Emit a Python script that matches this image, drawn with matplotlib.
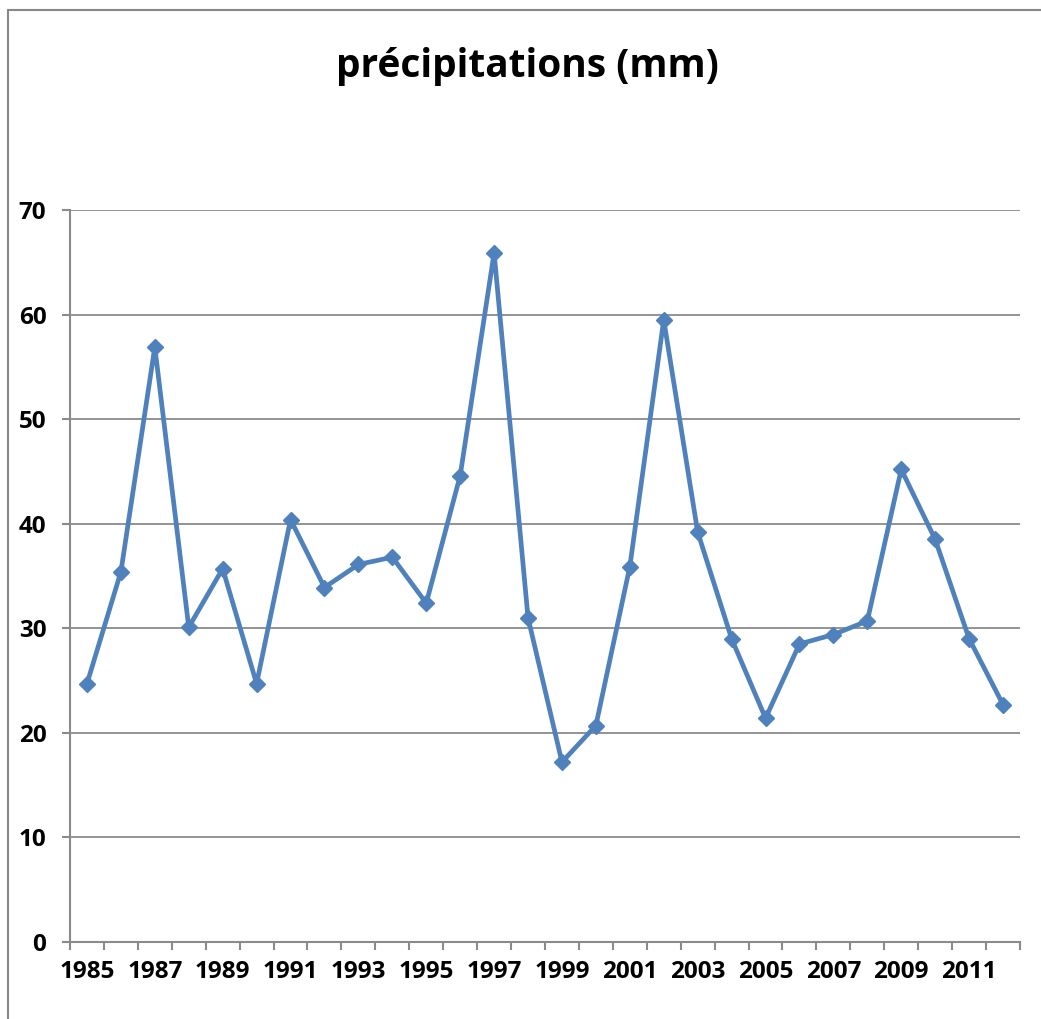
import numpy as np
import matplotlib.pyplot as plt
from matplotlib.patches import Rectangle

# annual precipitation series
years = list(range(1985, 2013))
precip = [24.7, 35.4, 56.9, 30.1, 35.7, 24.7, 40.4, 33.9, 36.1, 36.8,
          32.4, 44.6, 65.9, 31.0, 17.2, 20.7, 35.9, 59.5, 39.2, 29.0,
          21.4, 28.5, 29.4, 30.7, 45.2, 38.5, 29.0, 22.7]
y_ticks = [0, 10, 20, 30, 40, 50, 60, 70]

W, H = 1041, 1019
fig = plt.figure(figsize=(W / 100, H / 100), dpi=100)
plt.rcParams['font.family'] = ['Open Sans', 'DejaVu Sans']

# outer chart frame (right and bottom edges run past the canvas)
fig.patches.append(Rectangle((8 / W, -0.05), 1.2, (H - 10) / H + 0.05,
                             transform=fig.transFigure, fill=False,
                             edgecolor='#888888', linewidth=1.5))

ax = fig.add_axes([70 / W, (H - 942) / H, (1020 - 70) / W, (942 - 210) / H])
x = np.arange(len(years))
ax.plot(x, precip, color='#4F81BD', linewidth=3.4, marker='D', markersize=8.5,
        markerfacecolor='#4F81BD', markeredgecolor='#4F81BD', zorder=3)

ax.set_xlim(-0.5, len(years) - 0.5)
ax.set_ylim(0, 70)

grid_c = '#8a8a8a'
ax.set_yticks(y_ticks)
ax.yaxis.grid(True, color=grid_c, linewidth=1.3)
ax.set_axisbelow(True)
for s in ['top', 'right']:
    ax.spines[s].set_visible(False)
for s in ['left', 'bottom']:
    ax.spines[s].set_color(grid_c)
    ax.spines[s].set_linewidth(1.5)

# category boundaries carry the ticks, every other year is labelled
ax.set_xticks(np.arange(-0.5, len(years)), minor=True)
ax.set_xticks(x[::2])
ax.set_xticklabels([str(y) for y in years[::2]])
ax.tick_params(axis='x', which='major', length=0, pad=13)
ax.tick_params(axis='x', which='minor', length=6, width=1.5, color=grid_c,
               direction='out')
ax.tick_params(axis='y', length=6, width=1.5, color=grid_c, pad=11)
for lab in ax.get_xticklabels() + ax.get_yticklabels():
    lab.set_fontsize(17.5)
    lab.set_fontweight('bold')

fig.text(527 / W, 1 - 66 / H, 'précipitations (mm)', ha='center', va='center',
         fontsize=28, fontweight='bold')

fig.savefig('out.png', dpi=100)
